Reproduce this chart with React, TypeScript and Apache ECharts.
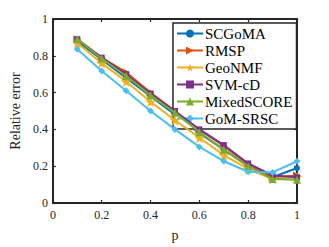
import React, { useEffect, useRef } from "react";
import * as echarts from "echarts";

const pValues = [0.1, 0.2, 0.3, 0.4, 0.5, 0.6, 0.7, 0.8, 0.9, 1.0];
const scgoma = [0.88, 0.78, 0.68, 0.58, 0.48, 0.38, 0.29, 0.2, 0.14, 0.19];
const rmsp = [0.89, 0.79, 0.71, 0.6, 0.5, 0.4, 0.31, 0.21, 0.14, 0.15];
const geonmf = [0.87, 0.76, 0.66, 0.55, 0.45, 0.355, 0.26, 0.185, 0.13, 0.14];
const svmcd = [0.89, 0.79, 0.7, 0.595, 0.5, 0.4, 0.315, 0.215, 0.15, 0.14];
const mixedscore = [0.89, 0.785, 0.69, 0.585, 0.49, 0.385, 0.29, 0.2, 0.13, 0.127];
const gomsrsc = [0.835, 0.717, 0.61, 0.5, 0.4, 0.305, 0.227, 0.17, 0.166, 0.227];

const seriesNames = ["SCGoMA", "RMSP", "GeoNMF", "SVM-cD", "MixedSCORE", "GoM-SRSC"];
const seriesData = [scgoma, rmsp, geonmf, svmcd, mixedscore, gomsrsc];
const colors = ["#0072BD", "#D95319", "#EDB120", "#7E2F8E", "#77AC30", "#4DBEEE"];
const starPath =
  "path://M50,0 L61,35 L98,35 L68,57 L79,91 L50,70 L21,91 L32,57 L2,35 L39,35 Z";
const symbols = ["circle", "triangle", starPath, "rect", "triangle", "diamond"];
const symbolRotates = [0, -90, 0, 0, 0, 0];
const symbolSizes = [6, 8, 11, 6, 8, 7];

const FONT = "'Liberation Serif', 'Times New Roman', serif";
const AX = "#262626";

export default function App() {
  const ref = useRef<HTMLDivElement>(null);
  useEffect(() => {
    if (!ref.current) return;
    const chart = echarts.init(ref.current, undefined, { renderer: "svg" });
    const axisCommon = {
      type: "value" as const,
      min: 0,
      max: 1,
      interval: 0.2,
      axisLine: { show: true, onZero: false, lineStyle: { color: AX, width: 2 } },
      axisTick: { show: true, inside: true, length: 3, lineStyle: { color: AX, width: 1.2 } },
      splitLine: { show: false },
    };
    chart.setOption({
      animation: false,
      color: colors,
      textStyle: { fontFamily: FONT },
      grid: { left: 42, right: 32, top: 19, bottom: 37 },
      xAxis: [
        {
          ...axisCommon,
          position: "bottom",
          name: "p",
          nameLocation: "middle",
          nameGap: 25,
          nameTextStyle: { fontFamily: FONT, fontSize: 14, color: AX },
          axisLabel: { fontFamily: FONT, fontSize: 12, color: AX, margin: 6 },
        },
        { ...axisCommon, position: "top", axisLabel: { show: false } },
      ],
      yAxis: [
        {
          ...axisCommon,
          position: "left",
          name: "Relative error",
          nameLocation: "middle",
          nameGap: 26,
          nameTextStyle: { fontFamily: FONT, fontSize: 14, color: AX },
          axisLabel: { fontFamily: FONT, fontSize: 12, color: AX, margin: 5 },
        },
        { ...axisCommon, position: "right", axisLabel: { show: false } },
      ],
      legend: {
        orient: "vertical",
        left: 173,
        top: 23,
        padding: [3, 4, 3, 3],
        itemGap: 2,
        itemWidth: 26,
        itemHeight: 10,
        borderColor: AX,
        borderWidth: 1.5,
        backgroundColor: "#ffffff",
        textStyle: { fontFamily: FONT, fontSize: 15, color: "#000", padding: [0, 0, 0, -3] },
        data: seriesNames,
      },
      series: seriesNames.map((name, i) => ({
        name,
        type: "line",
        data: pValues.map((p, j) => [p, seriesData[i][j]]),
        symbol: symbols[i],
        symbolSize: symbolSizes[i],
        symbolRotate: symbolRotates[i],
        showAllSymbol: true,
        lineStyle: { width: 2, color: colors[i] },
        itemStyle: { color: colors[i] },
        z: 2 + i,
      })),
    });
    return () => chart.dispose();
  }, []);
  return (
    <div
      ref={ref}
      style={{ position: "absolute", left: 0, top: 0, width: 329, height: 247 }}
    />
  );
}
